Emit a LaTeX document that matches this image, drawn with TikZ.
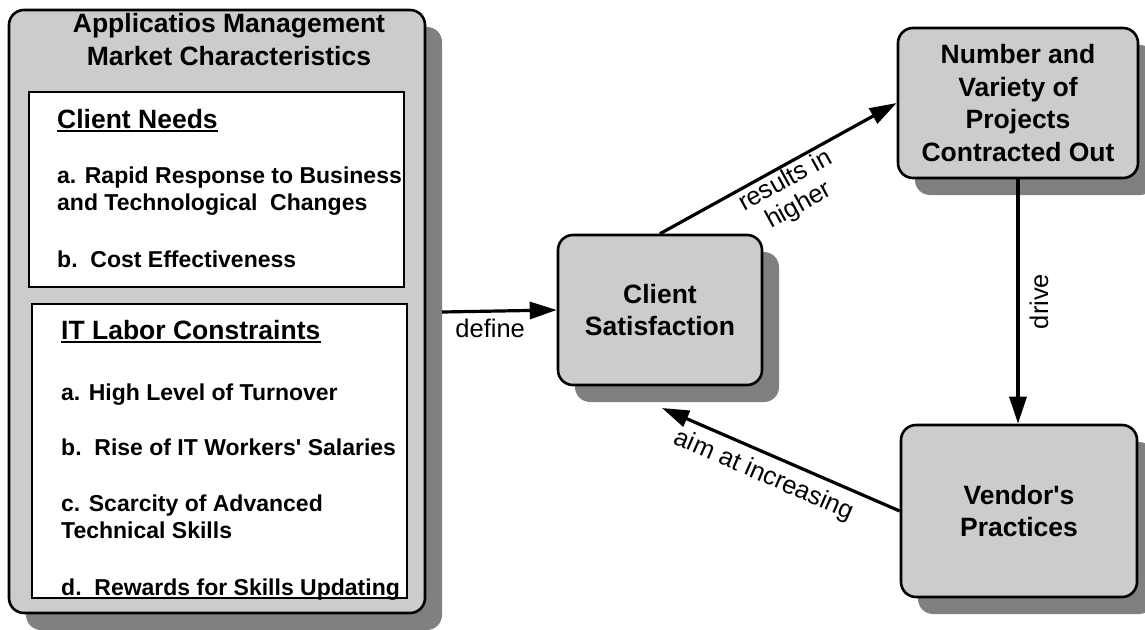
\documentclass[tikz,border=0pt]{standalone}
\usepackage{fontspec}
\setmainfont{Liberation Sans}
\usetikzlibrary{arrows.meta,shadows,calc}
\definecolor{boxgray}{HTML}{CCCCCC}
\definecolor{shadegray}{HTML}{808080}
\newcommand\headfont{\fontsize{26.5}{32.5}\selectfont\bfseries}
\newcommand\itemfont{\fontsize{23}{26.5}\selectfont\bfseries}
\newcommand\edgefont{\fontsize{25.5}{28}\selectfont}

\begin{document}
\begin{tikzpicture}[x=1pt,y=-1pt,
  grayblock/.style={draw=black, line width=2.6pt, fill=boxgray, rounded corners=15pt,
    inner sep=0pt, align=center, font=\headfont,
    drop shadow={shadow xshift=17pt, shadow yshift=-17pt, opacity=1, fill=shadegray}},
  listbox/.style={draw=black, line width=2.2pt, fill=white, inner sep=0pt},
  txt/.style={inner sep=0pt, anchor=base west, align=left},
  flow/.style={line width=3.2pt, -{Triangle[length=27pt,width=17pt]}},
  edgelabel/.style={font=\edgefont, inner sep=0pt},
]
\useasboundingbox (0,0) rectangle (1145,629);

% left panel: market characteristics
\node[grayblock, minimum width=416pt, minimum height=603pt] (market) at (217,311.5) {};
\node[listbox, minimum width=375pt, minimum height=195pt] (needs) at (216.5,189.5) {};
\node[listbox, minimum width=375pt, minimum height=294pt] (labor) at (219.5,451) {};
% (base anchor of a multi-line node sits on its last line)
\node[inner sep=0pt, anchor=base, align=center, font=\headfont] (title) at (229,65)
  {Applicatios Management\\Market Characteristics};

\node[txt, font=\headfont] (cnhead) at (57,128) {Client Needs};
\draw[line width=2pt] ($(cnhead.base west)+(0,3)$) -- ($(cnhead.base east)+(0,3)$);
\node[txt, font=\itemfont] (cn1) at (57,210) {a. Rapid Response to Business\\and Technological\ \ Changes};
\node[txt, font=\itemfont] (cn2) at (57,267) {b.\ \ Cost Effectiveness};

\node[txt, font=\headfont] (ithead) at (61,339) {IT Labor Constraints};
\draw[line width=2pt] ($(ithead.base west)+(0,3)$) -- ($(ithead.base east)+(0,3)$);
\node[txt, font=\itemfont] (it1) at (61,400) {a. High Level of Turnover};
\node[txt, font=\itemfont] (it2) at (61,455) {b.\ \ Rise of IT Workers\textquotesingle\ Salaries};
\node[txt, font=\itemfont] (it3) at (61,538) {c. Scarcity of Advanced\\Technical Skills};
\node[txt, font=\itemfont] (it4) at (61,595) {d.\ \ Rewards for Skills Updating};

% cycle of outcomes
\node[grayblock, minimum width=204pt, minimum height=150pt] (sat) at (660,310) {Client\\Satisfaction};
\node[grayblock, minimum width=240pt, minimum height=150pt] (num) at (1018,103)
  {Number and\\Variety of\\Projects\\Contracted Out};
\node[grayblock, minimum width=236pt, minimum height=172pt] (vend) at (1019,511)
  {Vendor\textquotesingle s\\Practices};

\coordinate (defstart) at (442,312);
\coordinate (aimtip) at (662,408);

\draw[flow] (defstart) -- node[edgelabel, pos=.42, below=6.5pt] {define} (sat.west);
\draw[flow] (sat.north) -- node[edgelabel, sloped, below=1.5pt, align=center, pos=.5]
  {results in\\higher} (num.west);
\draw[flow] (num.south) -- node[edgelabel, rotate=90, anchor=north, inner sep=10pt, pos=.5]
  {drive} (num.south |- vend.north);
\draw[flow] (vend.west) -- node[edgelabel, sloped, below=8pt, pos=.535]
  {aim at increasing} (aimtip);
\end{tikzpicture}
\end{document}
